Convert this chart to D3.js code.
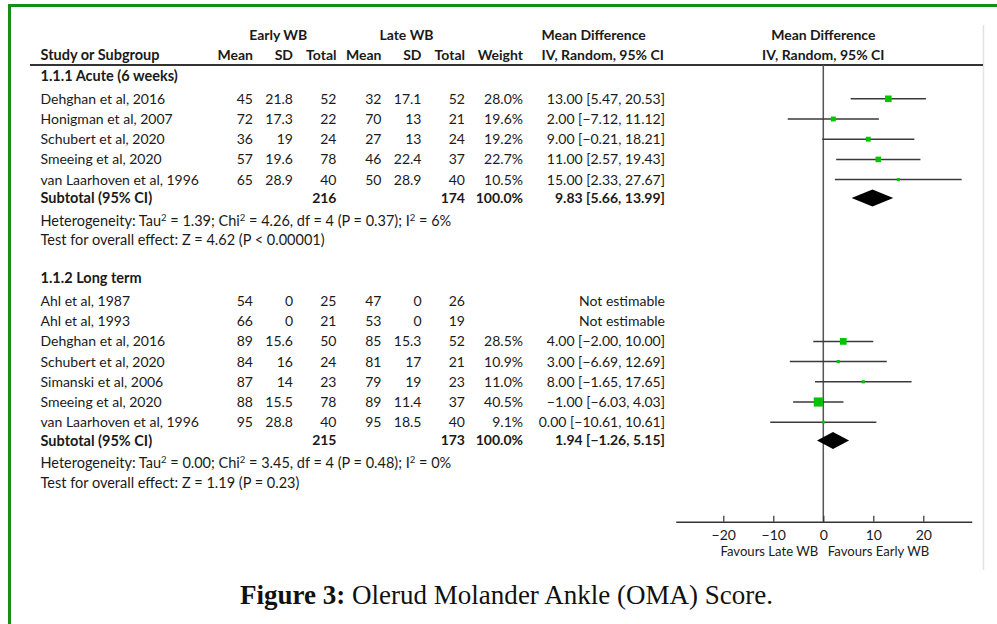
<!DOCTYPE html>
<html>
<head>
<meta charset="utf-8">
<script src="https://cdn.jsdelivr.net/npm/d3@7"></script>
<style>
  html, body { margin: 0; padding: 0; background: #fff; }
  svg { display: block; }
  text { font-family: Lato, "Liberation Sans", sans-serif; font-size: 14px; fill: #1a1a1a; }
  .b { font-weight: bold; }
</style>
</head>
<body>
<svg id="chart" width="997" height="624"></svg>
<script>
// ---------------- DATA ----------------
const acuteStudies   = ["Dehghan et al, 2016", "Honigman et al, 2007", "Schubert et al, 2020", "Smeeing et al, 2020", "van Laarhoven et al, 1996"];
const acuteEarlyMean = [45, 72, 36, 57, 65];
const acuteEarlySD   = [21.8, 17.3, 19, 19.6, 28.9];
const acuteEarlyN    = [52, 22, 24, 78, 40];
const acuteLateMean  = [32, 70, 27, 46, 50];
const acuteLateSD    = [17.1, 13, 13, 22.4, 28.9];
const acuteLateN     = [52, 21, 24, 37, 40];
const acuteWeight    = [28.0, 19.6, 19.2, 22.7, 10.5];
const acuteMD        = [13.00, 2.00, 9.00, 11.00, 15.00];
const acuteLow       = [5.47, -7.12, -0.21, 2.57, 2.33];
const acuteHigh      = [20.53, 11.12, 18.21, 19.43, 27.67];
const acuteSubtotal  = { earlyN: 216, lateN: 174, weight: 100.0, md: 9.83, low: 5.66, high: 13.99 };
const acuteHet       = { tau2: "1.39", chi2: "4.26", df: 4, p: "0.37", i2: "6%" };
const acuteOverall   = "Test for overall effect: Z = 4.62 (P < 0.00001)";

const longStudies   = ["Ahl et al, 1987", "Ahl et al, 1993", "Dehghan et al, 2016", "Schubert et al, 2020", "Simanski et al, 2006", "Smeeing et al, 2020", "van Laarhoven et al, 1996"];
const longEarlyMean = [54, 66, 89, 84, 87, 88, 95];
const longEarlySD   = [0, 0, 15.6, 16, 14, 15.5, 28.8];
const longEarlyN    = [25, 21, 50, 24, 23, 78, 40];
const longLateMean  = [47, 53, 85, 81, 79, 89, 95];
const longLateSD    = [0, 0, 15.3, 17, 19, 11.4, 18.5];
const longLateN     = [26, 19, 52, 21, 23, 37, 40];
const longWeight    = [null, null, 28.5, 10.9, 11.0, 40.5, 9.1];
const longMD        = [null, null, 4.00, 3.00, 8.00, -1.00, 0.00];
const longLow       = [null, null, -2.00, -6.69, -1.65, -6.03, -10.61];
const longHigh      = [null, null, 10.00, 12.69, 17.65, 4.03, 10.61];
const longSubtotal  = { earlyN: 215, lateN: 173, weight: 100.0, md: 1.94, low: -1.26, high: 5.15 };
const longHet       = { tau2: "0.00", chi2: "3.45", df: 4, p: "0.48", i2: "0%" };
const longOverall   = "Test for overall effect: Z = 1.19 (P = 0.23)";

const groupTitles = ["1.1.1 Acute (6 weeks)", "1.1.2 Long term"];
const axisTicks   = [-20, -10, 0, 10, 20];
const favoursLeft = "Favours Late WB";
const favoursRight = "Favours Early WB";
const figureLabel = "Figure 3:";
const figureTitle = " Olerud Molander Ankle (OMA) Score.";

// ---------------- BUILD ----------------
function buildGroup(title, names, em, esd, en, lm, lsd, ln, w, md, lo, hi, sub, het, overall) {
  return {
    title,
    studies: names.map((n, i) => ({ name: n, em: em[i], esd: esd[i], en: en[i], lm: lm[i], lsd: lsd[i], ln: ln[i], w: w[i], md: md[i], lo: lo[i], hi: hi[i] })),
    sub, het, overall
  };
}
const groups = [
  buildGroup(groupTitles[0], acuteStudies, acuteEarlyMean, acuteEarlySD, acuteEarlyN, acuteLateMean, acuteLateSD, acuteLateN, acuteWeight, acuteMD, acuteLow, acuteHigh, acuteSubtotal, acuteHet, acuteOverall),
  buildGroup(groupTitles[1], longStudies, longEarlyMean, longEarlySD, longEarlyN, longLateMean, longLateSD, longLateN, longWeight, longMD, longLow, longHigh, longSubtotal, longHet, longOverall)
];

const svg = d3.select("#chart");
const f2 = d3.format(".2f");
const f1 = d3.format(".1f");
const ciText = (m, l, h) => `${f2(m)} [${f2(l)}, ${f2(h)}]`;

// layout
const col = { name: 40.5, em: 253, esd: 293, en: 336.5, lm: 381.5, lsd: 421.5, ln: 465, w: 523, ci: 665, ciHead: 541.5 };
const plotCenter = 823.3;
const x = d3.scaleLinear().domain([-29.5, 29.7]).range([675.8, 971.8]);
const boxSize = d3.scaleLinear().domain([0, 100]).range([1, 21]);

// frame
svg.append("line").attr("x1", 8).attr("x2", 997).attr("y1", 5.5).attr("y2", 5.5).attr("stroke", "#178e17").attr("stroke-width", 3);
svg.append("line").attr("x1", 9.5).attr("x2", 9.5).attr("y1", 4).attr("y2", 624).attr("stroke", "#178e17").attr("stroke-width", 3);
svg.append("line").attr("x1", 983.5).attr("x2", 983.5).attr("y1", 25).attr("y2", 570).attr("stroke", "#e2e2e2").attr("stroke-width", 1.5);

// headers
const hdr1 = 35, hdr2 = 55, hdrLine = 65;
function txt(xp, yp, s, anchor, bold) {
  return svg.append("text").attr("x", xp).attr("y", yp).attr("dy", "0.35em")
    .attr("text-anchor", anchor || "start").attr("class", bold ? "b" : null).text(s);
}
txt((220 + col.en) / 2, hdr1, "Early WB", "middle", true);
txt((348 + col.ln) / 2, hdr1, "Late WB", "middle", true);
txt(col.ciHead, hdr1, "Mean Difference", "start", true);
txt(plotCenter, hdr1, "Mean Difference", "middle", true);
txt(col.name, hdr2, "Study or Subgroup", "start", true).style("font-size", "14.5px");
[["em", "Mean"], ["esd", "SD"], ["en", "Total"], ["lm", "Mean"], ["lsd", "SD"], ["ln", "Total"], ["w", "Weight"]]
  .forEach(([k, s]) => txt(col[k], hdr2, s, "end", true));
txt(col.ciHead, hdr2, "IV, Random, 95% CI", "start", true);
txt(plotCenter, hdr2, "IV, Random, 95% CI", "middle", true);
svg.append("line").attr("x1", 30).attr("x2", 983).attr("y1", hdrLine).attr("y2", hdrLine).attr("stroke", "#333").attr("stroke-width", 2);

// rows
const axisY = 521.7;
svg.append("line").attr("x1", x(0)).attr("x2", x(0)).attr("y1", hdrLine).attr("y2", axisY)
  .attr("stroke", "#555").attr("stroke-width", 1.5);

let y = 76;
groups.forEach((g, gi) => {
  if (gi > 0) y += 38;
  txt(col.name, y, g.title, "start", true).style("font-size", "14.5px");
  y += 22.8;
  g.studies.forEach((s, i) => {
    if (i > 0) y += 20.2;
    txt(col.name, y, s.name);
    txt(col.em, y, String(s.em), "end");
    txt(col.esd, y, String(s.esd), "end");
    txt(col.en, y, String(s.en), "end");
    txt(col.lm, y, String(s.lm), "end");
    txt(col.lsd, y, String(s.lsd), "end");
    txt(col.ln, y, String(s.ln), "end");
    if (s.w == null) {
      txt(col.ci, y, "Not estimable", "end");
    } else {
      txt(col.w, y, f1(s.w) + "%", "end");
      txt(col.ci, y, ciText(s.md, s.lo, s.hi), "end");
      svg.append("line").attr("x1", x(s.lo)).attr("x2", x(s.hi)).attr("y1", y).attr("y2", y)
        .attr("stroke", "#3a3a3a").attr("stroke-width", 1.5);
      const b = boxSize(s.w);
      svg.append("rect").attr("x", x(s.md) - b / 2).attr("y", y - b / 2).attr("width", b).attr("height", b)
        .attr("fill", "#00c400");
    }
  });
  y += 18.3;
  txt(col.name, y, "Subtotal (95% CI)", "start", true).style("font-size", "14.5px");
  txt(col.en, y, String(g.sub.earlyN), "end", true);
  txt(col.ln, y, String(g.sub.lateN), "end", true);
  txt(col.w, y, f1(g.sub.weight) + "%", "end", true);
  txt(col.ci, y, ciText(g.sub.md, g.sub.low, g.sub.high), "end", true);
  const dh = 8.5;
  svg.append("path")
    .attr("d", `M${x(g.sub.low)},${y} L${x(g.sub.md)},${y - dh} L${x(g.sub.high)},${y} L${x(g.sub.md)},${y + dh} Z`)
    .attr("fill", "#000");
  y += 22.5;
  const h = svg.append("text").attr("x", col.name).attr("y", y + 5.1).style("font-size", "14.5px");
  const sup = (t) => { h.append("tspan").attr("dy", -5).style("font-size", "9.5px").text(t); };
  const norm = (t, first) => { const ts = h.append("tspan").text(t); if (!first) ts.attr("dy", 5); };
  norm("Heterogeneity: Tau", true);
  sup("2");
  norm(` = ${g.het.tau2}; Chi`);
  sup("2");
  norm(` = ${g.het.chi2}, df = ${g.het.df} (P = ${g.het.p}); I`);
  sup("2");
  norm(` = ${g.het.i2}`);
  y += 19.8;
  svg.append("text").attr("x", col.name).attr("y", y).attr("dy", "0.35em").style("font-size", "14.5px").text(g.overall);
});

// axis
const axis = d3.axisBottom(x).tickValues(axisTicks).tickSizeInner(-6).tickSizeOuter(0).tickPadding(8);
const ag = svg.append("g").attr("transform", `translate(0,${axisY})`).call(axis);
ag.select(".domain").attr("stroke", "#333").attr("stroke-width", 1.5);
ag.selectAll(".tick line").attr("stroke", "#333").attr("stroke-width", 1.2);
ag.selectAll(".tick text").attr("fill", "#1a1a1a").style("font-family", "Lato, sans-serif").style("font-size", "14px");
txt(x(0) - 5, 551.5, favoursLeft, "end").style("font-size", "13.1px");
txt(x(0) + 4.5, 551.5, favoursRight, "start").style("font-size", "13.1px");

// figure caption
const cap = svg.append("text").attr("x", 506.5).attr("y", 604).attr("text-anchor", "middle")
  .style("font-family", "'Liberation Serif', 'DejaVu Serif', serif").style("font-size", "26px").style("fill", "#111");
cap.append("tspan").style("font-weight", "bold").text(figureLabel);
cap.append("tspan").text(figureTitle);
// fit caption to reference width
const targetW = 533;
const w0 = cap.node().getComputedTextLength();
cap.style("font-size", (26 * targetW / w0).toFixed(2) + "px");
</script>
</body>
</html>
